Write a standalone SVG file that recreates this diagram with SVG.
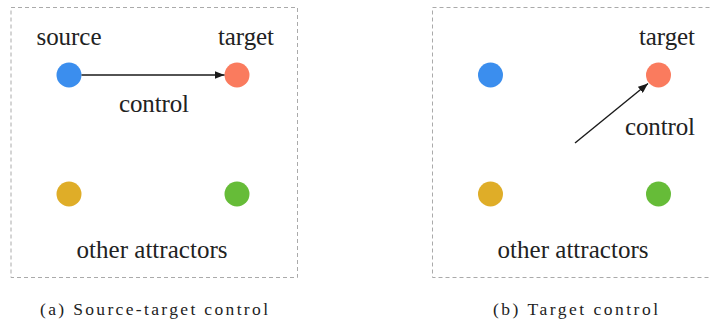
<svg xmlns="http://www.w3.org/2000/svg" width="710" height="320" viewBox="0 0 710 320">
<style>
.box{fill:none;stroke:#aaaaaa;stroke-width:1;stroke-dasharray:4,3}
.lbl{font-family:'Liberation Serif','Times New Roman',serif;font-size:25px;fill:#222;text-anchor:middle}
.cap{font-family:'Liberation Serif','Times New Roman',serif;font-size:17.5px;fill:#222;text-anchor:middle}
.edge{stroke:#1a1a1a;stroke-width:1.4;fill:none;marker-end:url(#ah)}
.blue{fill:#3b8eee}.orange{fill:#fa7b5e}.yellow{fill:#dfad28}.green{fill:#66bc38}
</style>
<defs>
<marker id="ah" viewBox="0 0 10 8" refX="10" refY="4" markerWidth="10" markerHeight="8" markerUnits="userSpaceOnUse" orient="auto">
<path d="M0,0 L10,4 L0,8 Z" fill="#1a1a1a"/>
</marker>
</defs>
<rect class="box" x="11" y="7.5" width="286.5" height="270"/>
<rect class="box" x="432.5" y="7.5" width="290" height="270"/>
<g id="a-source"><circle class="blue" cx="69" cy="75" r="12.5"/><text class="lbl" x="69" y="45" textLength="65">source</text></g>
<g id="a-target"><circle class="orange" cx="237" cy="75" r="12.5"/><text class="lbl" x="246" y="45" textLength="56">target</text></g>
<g id="a-other1"><circle class="yellow" cx="69" cy="194" r="12.5"/></g>
<g id="a-other2"><circle class="green" cx="237" cy="194" r="12.5"/></g>
<text class="lbl" x="152" y="258" textLength="151">other attractors</text>
<g id="b-n1"><circle class="blue" cx="490.5" cy="75" r="12.5"/></g>
<g id="b-target"><circle class="orange" cx="658.5" cy="75" r="12.5"/><text class="lbl" x="667" y="45" textLength="56">target</text></g>
<g id="b-other1"><circle class="yellow" cx="490.5" cy="194" r="12.5"/></g>
<g id="b-other2"><circle class="green" cx="658.5" cy="194" r="12.5"/></g>
<text class="lbl" x="573" y="258" textLength="151">other attractors</text>
<g id="connectors">
<line class="edge" x1="81.5" y1="75" x2="224.5" y2="75"/>
<text class="lbl" x="154" y="112" textLength="70">control</text>
<line class="edge" x1="575" y1="143" x2="648" y2="83.5"/>
<text class="lbl" x="660" y="135" textLength="70">control</text>
</g>
<text class="cap" x="154" y="315" textLength="228" lengthAdjust="spacing">(a) Source-target control</text>
<text class="cap" x="575.5" y="315" textLength="165" lengthAdjust="spacing">(b) Target control</text>
</svg>
